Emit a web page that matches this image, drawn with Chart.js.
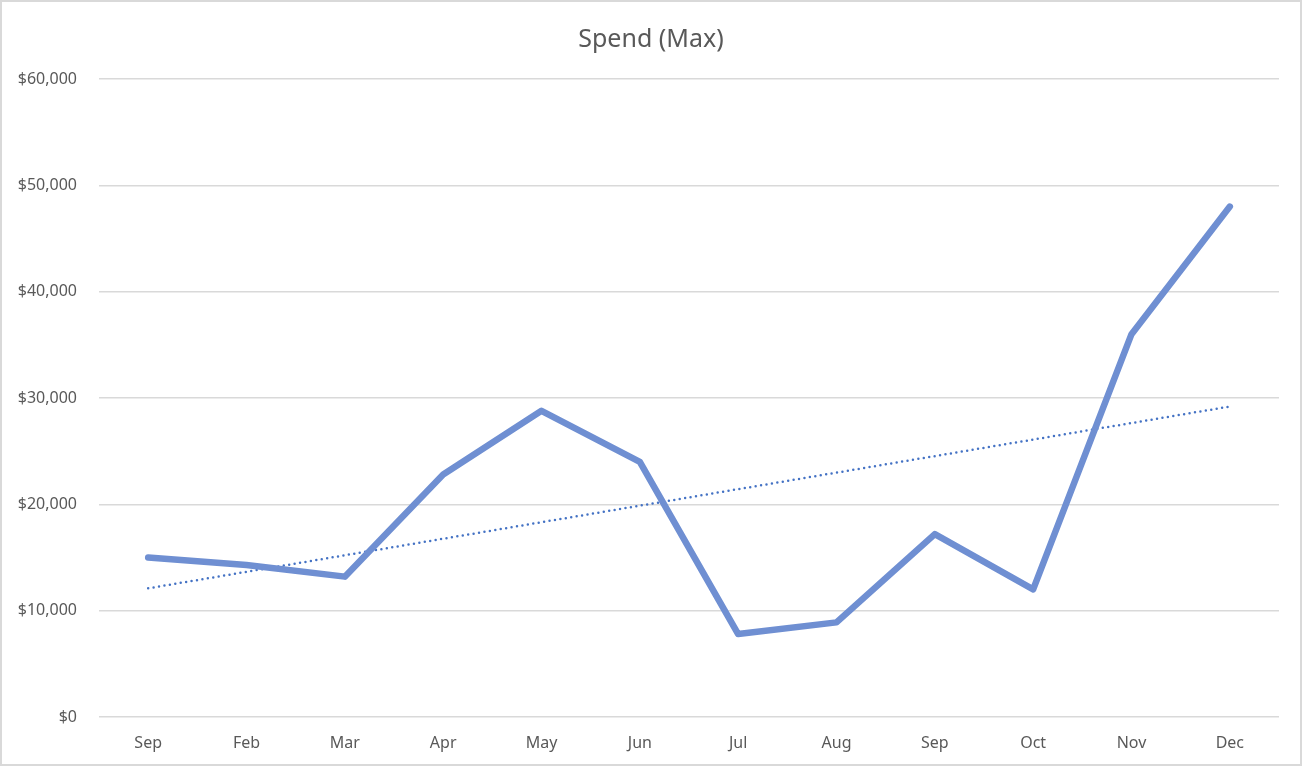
<!DOCTYPE html>
<html>
<head>
<meta charset="utf-8">
<script src="https://cdn.jsdelivr.net/npm/chart.js@4/dist/chart.umd.min.js"></script>
<style>
    html, body { margin: 0; padding: 0; background: #fff; }
    #wrap { width: 1302px; height: 766px; position: relative; }
</style>
</head>
<body>
<div id="wrap"><canvas id="chart"></canvas></div>
<script>
const months = ['Sep', 'Feb', 'Mar', 'Apr', 'May', 'Jun', 'Jul', 'Aug', 'Sep', 'Oct', 'Nov', 'Dec'];
const spendMax = [15000, 14300, 13200, 22800, 28800, 24000, 7800, 8900, 17200, 12000, 36000, 48000];
// trendline ends (first and last month)
const trendEnds = [12100, 29200];

const trend = months.map((m, i) => i === 0 ? trendEnds[0] : (i === months.length - 1 ? trendEnds[1] : null));

const textGray = '#595959';
const font = 'Noto Sans';

// light frame round the whole chart, like the Excel chart area
const framePlugin = {
    id: 'frame',
    afterDraw(chart) {
        const ctx = chart.ctx;
        ctx.save();
        ctx.strokeStyle = '#d9d9d9';
        ctx.lineWidth = 2;
        ctx.strokeRect(1, 1, chart.width - 2, chart.height - 2);
        ctx.restore();
    }
};

new Chart(document.getElementById('chart'), {
    type: 'line',
    data: {
        labels: months,
        datasets: [{
            label: 'Spend (Max)',
            data: spendMax,
            borderColor: '#6f8fd2',
            borderWidth: 6.5,
            borderCapStyle: 'round',
            borderJoinStyle: 'round',
            pointRadius: 0,
            tension: 0,
            fill: false
        }, {
            label: 'Linear (Spend (Max))',
            data: trend,
            spanGaps: true,
            borderColor: '#4472c4',
            borderWidth: 2.5,
            borderDash: [0, 5.5],
            borderCapStyle: 'round',
            pointRadius: 0,
            fill: false
        }]
    },
    options: {
        responsive: true,
        maintainAspectRatio: false,
        animation: false,
        events: [],
        layout: { padding: { left: 0, right: 0, top: 0, bottom: 1 } },
        plugins: {
            legend: { display: false },
            tooltip: { enabled: false },
            title: {
                display: true,
                text: 'Spend (Max)',
                color: textGray,
                font: { family: font, size: 25, weight: 'normal' },
                padding: { top: 25, bottom: 24 }
            }
        },
        scales: {
            x: {
                offset: true,
                grid: { display: false, drawTicks: false },
                border: { display: false },
                ticks: {
                    color: textGray,
                    font: { family: font, size: 16 },
                    padding: 17,
                    maxRotation: 0,
                    autoSkip: false
                },
                afterFit(scale) { scale.height = 48; }
            },
            y: {
                min: 0,
                max: 60000,
                grid: { color: '#d9d9d9', lineWidth: 1.5, drawTicks: false },
                border: { display: false },
                ticks: {
                    stepSize: 10000,
                    color: textGray,
                    font: { family: font, size: 16 },
                    padding: 22,
                    callback: v => '$' + v.toLocaleString('en-US')
                },
                afterFit(scale) { scale.width = 99; }
            },
            // empty right-hand axis, only keeps the right margin of the plot
            yRight: {
                position: 'right',
                grid: { display: false, drawTicks: false },
                border: { display: false },
                ticks: { display: false },
                afterFit(scale) { scale.width = 23; }
            }
        }
    },
    plugins: [framePlugin]
});
</script>
</body>
</html>
